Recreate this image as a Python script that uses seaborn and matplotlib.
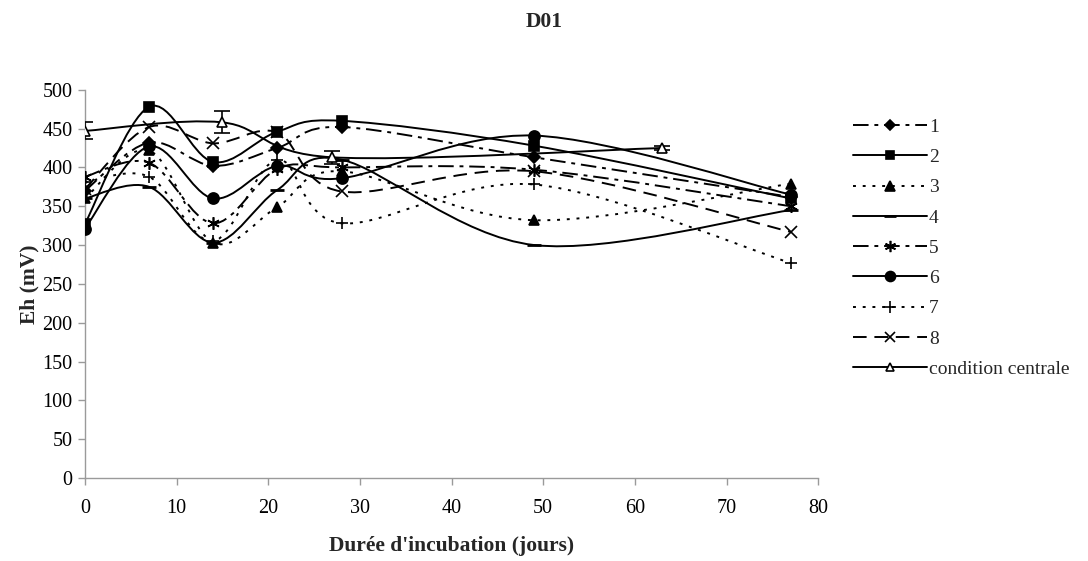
import matplotlib
matplotlib.use("Agg")
import matplotlib.pyplot as plt
import numpy as np
import pandas as pd
import seaborn as sns
from matplotlib.lines import Line2D
from matplotlib.path import Path
from matplotlib.patches import PathPatch

# --- données ---
jours = [0, 7, 14, 21, 28, 49, 77]
eh_1 = [370, 432, 402, 425, 452, 413, 362]
eh_2 = [327, 478, 407, 446, 460, 428, 360]
eh_3 = [360, 422, 303, 349, 395, 332, 379]
eh_4 = [360, 375, 303, 371, 410, 300, 345]
eh_5 = [388, 406, 328, 398, 400, 397, 350]
eh_6 = [321, 427, 360, 402, 386, 441, 365]
eh_7 = [381, 388, 305, 410, 328, 378, 277]
eh_8 = [372, 452, 431, 445, 369, 395, 317]

jours_cc = [0, 15, 27, 63]
eh_cc = [447, 458, 413, 425]
err_cc = [11, 14, 8, 3]

labels = ["1", "2", "3", "4", "5", "6", "7", "8", "condition centrale"]

DASHDOT = (0, (8, 3, 2, 3))
DOT = (0, (1.5, 3.5))
DASH = (0, (7, 4))

# style par série : (marqueur, taille, style de ligne, remplissage)
styles = {
    "1": ("D", 6, DASHDOT, "black"),
    "2": ("s", 7, "-", "black"),
    "3": ("^", 7.5, DOT, "black"),
    "4": ("_", 10, "-", "black"),
    "5": ((6, 2, 0), 9, DASHDOT, "black"),
    "6": ("o", 8, "-", "black"),
    "7": ("+", 9, DOT, "black"),
    "8": ("x", 8, DASH, "black"),
    "condition centrale": ("^", 7, "-", "white"),
}


def courbe_lissee(ax, xs, ys, ls):
    """Trace lissée façon Excel (Bézier de type Catmull-Rom)."""
    pts = np.column_stack([xs, ys]).astype(float)
    n = len(pts)
    verts = [pts[0]]
    codes = [Path.MOVETO]
    for i in range(n - 1):
        p0 = pts[i - 1] if i > 0 else pts[i]
        p1, p2 = pts[i], pts[i + 1]
        p3 = pts[i + 2] if i + 2 < n else pts[i + 1]
        c1 = p1 + (p2 - p0) / 6.0
        c2 = p2 - (p3 - p1) / 6.0
        verts += [c1, c2, p2]
        codes += [Path.CURVE4] * 3
    ax.add_patch(PathPatch(Path(verts, codes), fill=False, lw=1.4,
                           edgecolor="black", linestyle=ls, zorder=2))


sns.set_theme(style="white")
plt.rcParams["font.family"] = ["Liberation Serif", "DejaVu Serif"]

fig = plt.figure(figsize=(10.88, 5.61), dpi=100)
ax = fig.add_axes([0.078, 0.148, 0.674, 0.692])

series = [eh_1, eh_2, eh_3, eh_4, eh_5, eh_6, eh_7, eh_8]
for lab, vals in zip(labels[:8], series):
    mk, ms, ls, fc = styles[lab]
    courbe_lissee(ax, jours, vals, ls)
    df = pd.DataFrame({"jour": jours, "eh": vals})
    sns.lineplot(data=df, x="jour", y="eh", ax=ax, linestyle="", marker=mk,
                 markersize=ms, color="black", markerfacecolor=fc,
                 markeredgecolor="black", markeredgewidth=2 if lab == "4" else 1.2,
                 estimator=None, sort=False, zorder=3)

mk, ms, ls, fc = styles["condition centrale"]
courbe_lissee(ax, jours_cc, eh_cc, ls)
ax.errorbar(jours_cc, eh_cc, yerr=err_cc, fmt="none", ecolor="black",
            elinewidth=1.2, capsize=6, capthick=1.2, zorder=3)
df_cc = pd.DataFrame({"jour": jours_cc, "eh": eh_cc})
sns.lineplot(data=df_cc, x="jour", y="eh", ax=ax, linestyle="", marker=mk,
             markersize=ms, color="black", markerfacecolor=fc,
             markeredgecolor="black", markeredgewidth=1.2,
             estimator=None, sort=False, zorder=4)

ax.set_xlim(0, 80)
ax.set_ylim(0, 500)
ax.set_xticks(range(0, 81, 10))
ax.set_yticks(range(0, 501, 50))
for s in ("top", "right"):
    ax.spines[s].set_visible(False)
for s in ("left", "bottom"):
    ax.spines[s].set_color("#9a9a9a")
    ax.spines[s].set_linewidth(1.0)
ax.tick_params(axis="both", which="major", direction="out", length=5,
               width=1, color="#9a9a9a", labelsize=14.5, labelcolor="black",
               left=True, bottom=True, pad=4)
ax.tick_params(axis="x", pad=10)

ax.set_xlabel("Durée d'incubation (jours)", fontsize=15.5, fontweight="bold",
              labelpad=13)
ax.set_ylabel("Eh (mV)", fontsize=15.5, fontweight="bold", labelpad=2)
fig.suptitle("D01", fontsize=15.5, fontweight="bold", x=0.5, y=0.978)

handles = []
for lab in labels:
    mk, ms, ls, fc = styles[lab]
    handles.append(Line2D([], [], color="black", lw=1.4, linestyle=ls,
                          marker=mk, markersize=ms * 0.9, markerfacecolor=fc,
                          markeredgecolor="black",
                          markeredgewidth=2 if lab == "4" else 1.2))
fig.legend(handles, labels, loc="upper left", bbox_to_anchor=(0.777, 0.803),
           frameon=False, fontsize=14, handlelength=3.8, handletextpad=0.1,
           labelspacing=0.65, borderaxespad=0)

fig.savefig("out.png", dpi=100)
